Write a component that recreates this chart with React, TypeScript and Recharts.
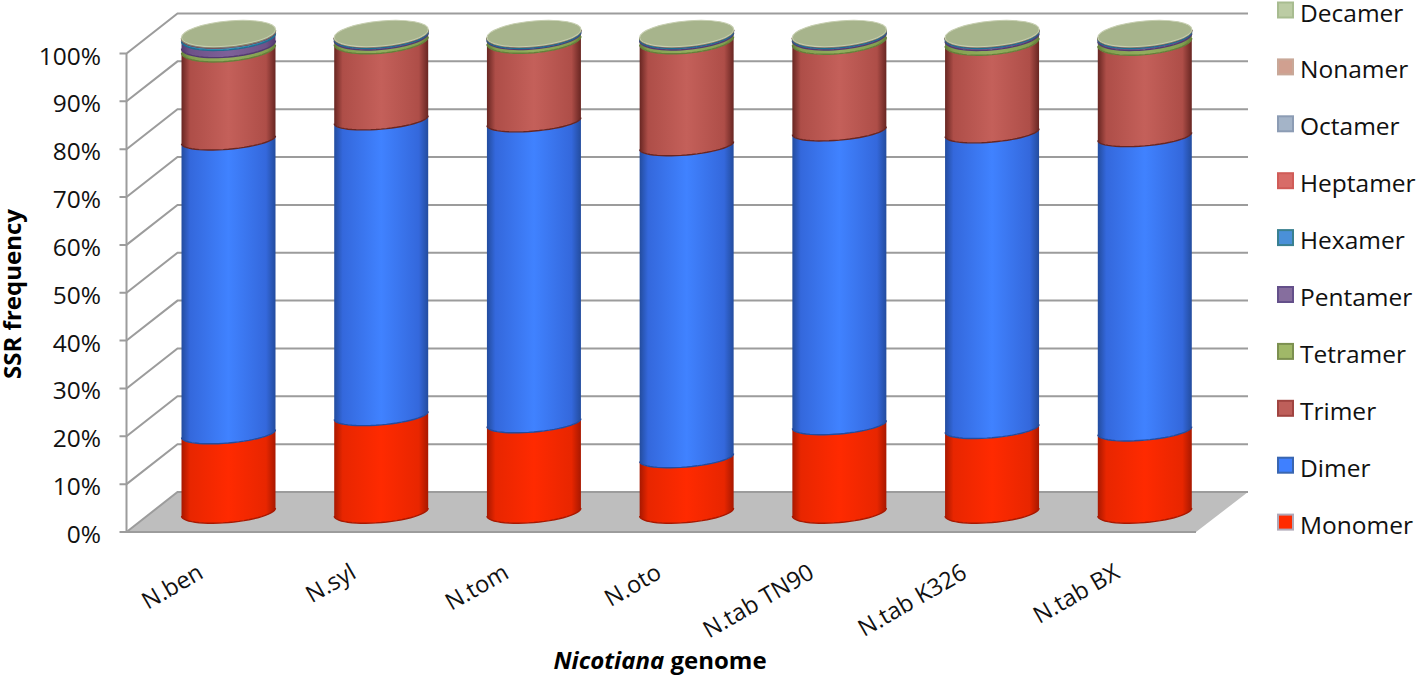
import React from "react";
import { BarChart, Bar, XAxis, YAxis, CartesianGrid, Legend } from "recharts";

const categories = ["N.ben", "N.syl", "N.tom", "N.oto", "N.tab TN90", "N.tab K326", "N.tab BX"];
const seriesNames = ["Monomer", "Dimer", "Trimer", "Tetramer", "Pentamer", "Hexamer", "Heptamer", "Octamer", "Nonamer", "Decamer"];
const monomer = [16.4, 20.2, 18.7, 11.4, 18.3, 17.5, 17.0];
const dimer = [61.4, 61.8, 62.9, 65.2, 61.4, 61.8, 61.5];
const trimer = [19.0, 16.5, 17.0, 21.9, 18.7, 18.9, 19.7];
const tetramer = [0.9, 0.8, 0.8, 0.8, 0.9, 1.0, 1.0];
const pentamer = [1.5, 0.3, 0.2, 0.3, 0.3, 0.4, 0.4];
const hexamer = [0.5, 0.3, 0.3, 0.3, 0.3, 0.3, 0.3];
const heptamer = [0.1, 0.03, 0.03, 0.03, 0.03, 0.03, 0.03];
const octamer = [0.1, 0.03, 0.03, 0.03, 0.03, 0.03, 0.03];
const nonamer = [0.05, 0.02, 0.02, 0.02, 0.02, 0.02, 0.02];
const decamer = [0.05, 0.02, 0.02, 0.02, 0.02, 0.02, 0.02];
const seriesValues = [monomer, dimer, trimer, tetramer, pentamer, hexamer, heptamer, octamer, nonamer, decamer];
const yTicks = [0, 10, 20, 30, 40, 50, 60, 70, 80, 90, 100];

const mainColors = ["#FF2A00", "#4082FF", "#C4605A", "#93AE5E", "#7E6199", "#3E9CC4", "#D9645E", "#92A9CC", "#CFA292", "#A7B48C"];
const sideColors = ["#E82600", "#3468DC", "#AE4E48", "#83A050", "#6E5288", "#3388AE", "#C05450", "#8098BC", "#BC9080", "#97A47C"];
const edgeColors = ["#A81800", "#234C9E", "#682622", "#64803A", "#533A70", "#1F6D90", "#8E2F2A", "#6480A4", "#A07868", "#7F8E62"];
const legendFill = ["#FF2A00", "#3F80FF", "#BE5F5A", "#A0B868", "#866E9E", "#4A90D8", "#D86C68", "#A4B4C8", "#D0A090", "#BCCCA4"];
const legendEdge = ["#B0A8B8", "#3A66B0", "#A04440", "#7C9050", "#64508A", "#3A8090", "#D05C58", "#8C9CB4", "#C8A898", "#A8BC90"];

const data = categories.map((name, i) => {
  const row: Record<string, string | number> = { name };
  seriesNames.forEach((s, j) => { row[s] = seriesValues[j][i]; });
  return row;
});

const FONT = "'Open Sans', sans-serif";
const TILT = 4;

function semi(y: number) {
  return y < 80 ? 12.5 : y < 470 ? 9.5 : 10.5;
}

function curve(cx: number, a: number, y: number, reverse: boolean) {
  const pts: string[] = [];
  const n = 28;
  const b = semi(y);
  for (let i = 0; i <= n; i++) {
    const t = (Math.PI * (reverse ? n - i : i)) / n;
    pts.push(`${(cx + a * Math.cos(t)).toFixed(2)},${(y + b * Math.sin(t) - TILT * Math.cos(t)).toFixed(2)}`);
  }
  return pts;
}

function Cylinder(props: any) {
  const { x, y, width, height, index } = props;
  const cx = x + width / 2;
  const a = width / 2;
  const top = curve(cx, a, y, false);
  const bottom = curve(cx, a, y + height, true);
  const body = `M${top.join("L")}L${bottom.join("L")}Z`;
  return (
    <g>
      <path d={body} fill={`url(#cyl${index})`} />
      <path d={`M${bottom.join("L")}`} fill="none" stroke={edgeColors[index]} strokeWidth={1.4} />
      {index === seriesNames.length - 1 && (
        <ellipse cx={0} cy={0} rx={a} ry={12.5}
          transform={`translate(${cx},${y}) skewY(${(-Math.atan2(TILT, a) * 180) / Math.PI})`}
          fill="#A7B48C" stroke="#C6CEB0" strokeWidth={1} />
      )}
    </g>
  );
}

function GridLine(props: any) {
  const { x1, x2, y1, index } = props;
  const fx = x1 - 26;
  const bx = x1 + 25;
  const bxr = x2 + 26.5;
  const fy = y1 + 20;
  const by = y1 - 20;
  const stroke = "#9C9C9C";
  return (
    <g>
      {index === 0 && (
        <polygon points={`${fx},${fy} ${bx},${by} ${bxr},${by} ${bxr - 52},${fy}`} fill="#BEBEBE" stroke="none" />
      )}
      <polyline points={`${fx - 7},${fy} ${fx},${fy} ${bx},${by} ${bxr},${by}`} fill="none" stroke={stroke} strokeWidth={2} />
      {index === 0 && (
        <>
          <line x1={fx} y1={fy} x2={bxr - 52} y2={fy} stroke={stroke} strokeWidth={2} />
          <line x1={fx} y1={fy} x2={fx} y2={fy - 478} stroke={stroke} strokeWidth={2} />
        </>
      )}
    </g>
  );
}

function YTick(props: any) {
  const { y, payload } = props;
  return (
    <text x={101} y={y + 31} textAnchor="end" fontFamily={FONT} fontSize={24.5} fill="#111">
      {`${payload.value}%`}
    </text>
  );
}

function XTick(props: any) {
  const { x, payload } = props;
  const ex = x - 24;
  const ey = 577;
  return (
    <text x={ex} y={ey} textAnchor="end" transform={`rotate(-30 ${ex} ${ey})`} fontFamily={FONT} fontSize={23.5} fill="#111">
      {payload.value}
    </text>
  );
}

function LegendBox() {
  return (
    <svg width={142} height={570} style={{ display: "block" }}>
      {[...seriesNames].reverse().map((s, k) => {
        const i = seriesNames.length - 1 - k;
        const cy = 12 + k * 56.9;
        return (
          <g key={s}>
            <rect x={2} y={cy - 9.5} width={15} height={15} fill={legendFill[i]} stroke={legendEdge[i]} strokeWidth={2} />
            <text x={24} y={cy + 9.5} fontFamily={FONT} fontSize={24.5} fill="#111">{s}</text>
          </g>
        );
      })}
    </svg>
  );
}

export default function App() {
  return (
    <div style={{ position: "absolute", left: 0, top: 0, width: 1418, height: 678 }}>
      <BarChart
        width={1418}
        height={678}
        data={data}
        margin={{ top: 33.5, right: 196.5, bottom: 0, left: 0 }}
      >
        <defs>
          {mainColors.map((c, i) => (
            <linearGradient key={c} id={`cyl${i}`} x1="0" y1="0" x2="1" y2="0">
              <stop offset="0" stopColor={edgeColors[i]} />
              <stop offset="0.09" stopColor={sideColors[i]} />
              <stop offset="0.5" stopColor={c} />
              <stop offset="0.9" stopColor={sideColors[i]} />
              <stop offset="1" stopColor={edgeColors[i]} />
            </linearGradient>
          ))}
        </defs>
        <CartesianGrid vertical={false} horizontal={(p: any) => <GridLine {...p} key={p.key} />} />
        <XAxis
          dataKey="name"
          height={166}
          interval={0}
          axisLine={false}
          tickLine={false}
          tick={<XTick />}
          label={{
            content: () => (
              <text x={660} y={669} textAnchor="middle" fontFamily={FONT} fontSize={24} fontWeight={700} fill="#000">
                <tspan fontStyle="italic">Nicotiana</tspan>
                <tspan> genome</tspan>
              </text>
            ),
          }}
        />
        <YAxis
          width={152.5}
          domain={[0, 100]}
          ticks={yTicks}
          interval={0}
          axisLine={false}
          tickLine={false}
          tick={<YTick />}
          label={{
            content: () => (
              <text x={21} y={294} textAnchor="middle" transform="rotate(-90 21 294)" fontFamily={FONT} fontSize={24} fontWeight={700} fill="#000">
                SSR frequency
              </text>
            ),
          }}
        />
        <Legend
          layout="vertical"
          align="center"
          verticalAlign="middle"
          content={() => <LegendBox />}
          wrapperStyle={{ position: "absolute", left: 1276, top: 0, width: 142, height: 570 }}
        />
        {seriesNames.map((s, i) => (
          <Bar
            key={s}
            dataKey={s}
            stackId="ssr"
            barSize={94}
            isAnimationActive={false}
            fill={mainColors[i]}
            shape={(p: any) => <Cylinder {...p} index={i} />}
          />
        ))}
      </BarChart>
    </div>
  );
}
